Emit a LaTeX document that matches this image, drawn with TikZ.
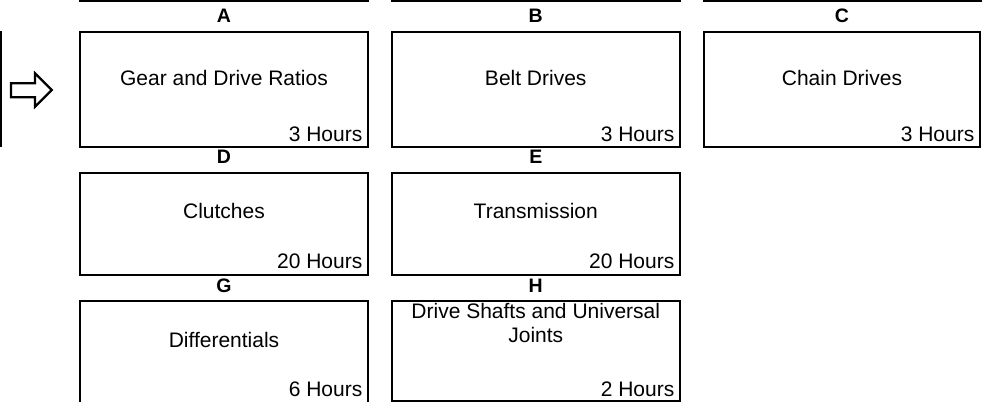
\documentclass[tikz,border=0pt]{standalone}
\usepackage{fontspec}
\setmainfont{Liberation Sans}
\usetikzlibrary{calc}
\tikzset{
  unitbox/.style={draw, line width=2pt, inner sep=0pt, outer sep=0pt, anchor=north west},
  openbox/.style={draw=none, inner sep=0pt, outer sep=0pt, anchor=north west},
  boxtitle/.style={anchor=base, inner sep=0pt, align=center, font=\fontsize{21}{24}\selectfont},
  hours/.style={anchor=base east, inner sep=0pt, font=\fontsize{21}{24}\selectfont},
  letter/.style={anchor=base, inner sep=0pt, font=\fontsize{19.5}{22}\selectfont\bfseries},
  rule/.style={line width=2pt},
}
\begin{document}
\begin{tikzpicture}[x=1pt, y=-1pt]
\useasboundingbox (0,0) rectangle (990,402);
% cut-off lines of the previous page parts
\draw[rule] (79,1) -- (369,1);
\draw[rule] (391,1) -- (681,1);
\draw[rule] (703,1) -- (982,1);
\draw[rule] (1,31) -- (1,147);
% arrow
\draw[line width=2.2pt, line join=miter] (11,83.3) -- (35,83.3) -- (35,73.3) -- (51.7,90) -- (35,106.7) -- (35,97.3) -- (11,97.3) -- cycle;
% row 1
\node[unitbox, minimum width=288pt, minimum height=114.5pt] (A) at (80,32) {};
\node[unitbox, minimum width=288.5pt, minimum height=114.5pt] (B) at (391.5,32) {};
\node[unitbox, minimum width=276pt, minimum height=114.5pt] (C) at (704,32) {};
\node[letter] (lA) at ($(A.north)+(0,-9.3)$) {A};
\node[letter] (lB) at ($(B.north)+(0,-9.3)$) {B};
\node[letter] (lC) at ($(C.north)+(0,-9.3)$) {C};
\node[boxtitle] (tA) at ($(A.north)+(0,53)$) {Gear and Drive Ratios};
\node[boxtitle] (tB) at ($(B.north)+(0,53)$) {Belt Drives};
\node[boxtitle] (tC) at ($(C.north)+(0,53)$) {Chain Drives};
\node[hours] (hA) at ($(A.south east)+(-5.5,-4.8)$) {3 Hours};
\node[hours] (hB) at ($(B.south east)+(-5.5,-4.8)$) {3 Hours};
\node[hours] (hC) at ($(C.south east)+(-5.5,-4.8)$) {3 Hours};
% row 2
\node[unitbox, minimum width=288pt, minimum height=101.5pt] (D) at (80,173) {};
\node[unitbox, minimum width=288.5pt, minimum height=101.5pt] (E) at (391.5,173) {};
\node[letter] (lD) at ($(D.north)+(0,-9.3)$) {D};
\node[letter] (lE) at ($(E.north)+(0,-9.3)$) {E};
\node[boxtitle] (tD) at ($(D.north)+(0,45.5)$) {Clutches};
\node[boxtitle] (tE) at ($(E.north)+(0,45.5)$) {Transmission};
\node[hours] (hD) at ($(D.south east)+(-5.5,-6)$) {20 Hours};
\node[hours] (hE) at ($(E.south east)+(-5.5,-6)$) {20 Hours};
% row 3
\node[openbox, minimum width=288pt, minimum height=101pt] (G) at (80,301) {};
\draw[rule, line join=miter] (G.south west) -- (G.north west) -- (G.north east) -- (G.south east);
\node[unitbox, minimum width=288.5pt, minimum height=99.7pt] (H) at (391.5,301) {};
\node[letter] (lG) at ($(G.north)+(0,-9)$) {G};
\node[letter] (lH) at ($(H.north)+(0,-9)$) {H};
\node[boxtitle] (tG) at ($(G.north)+(0,46)$) {Differentials};
\node[boxtitle] (tH) at ($(H.north)+(0,41)$) {Drive Shafts and Universal\\Joints};
\node[hours] (hG) at ($(G.north east)+(-5.5,95)$) {6 Hours};
\node[hours] (hH) at ($(H.south east)+(-5.5,-4.7)$) {2 Hours};
\end{tikzpicture}
\end{document}
